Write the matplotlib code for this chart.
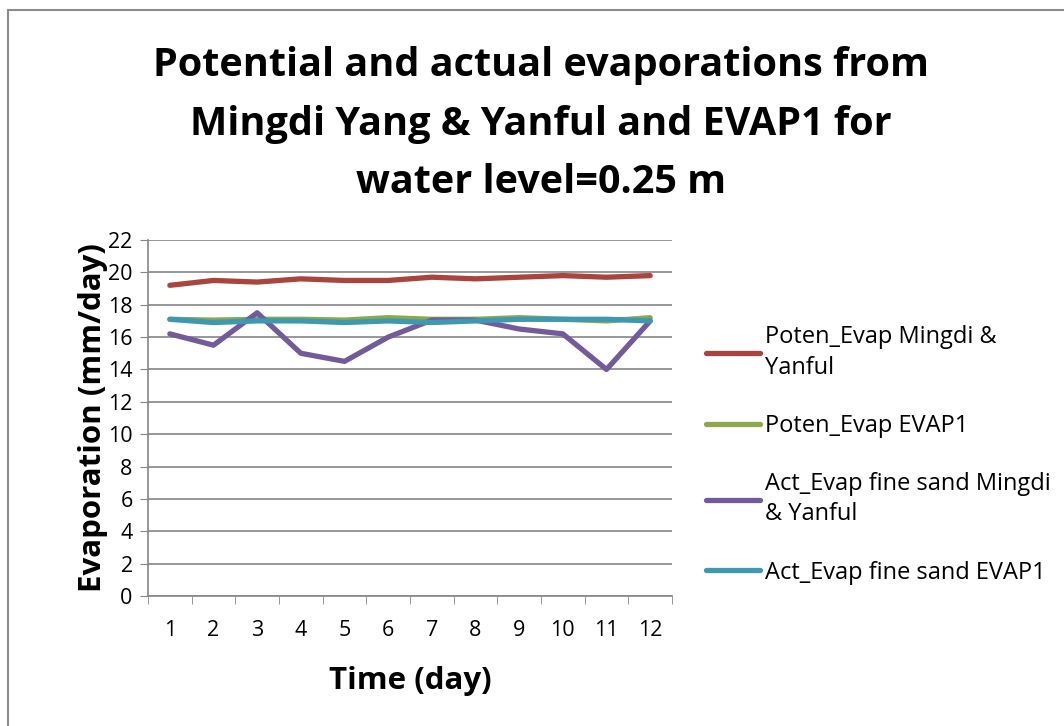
import matplotlib
matplotlib.use("Agg")
import matplotlib.pyplot as plt
from matplotlib.lines import Line2D

days = [1, 2, 3, 4, 5, 6, 7, 8, 9, 10, 11, 12]
poten_mingdi = [19.2, 19.5, 19.4, 19.6, 19.5, 19.5, 19.7, 19.6, 19.7, 19.8, 19.7, 19.8]
poten_evap1 = [17.1, 17.05, 17.1, 17.1, 17.05, 17.2, 17.1, 17.1, 17.2, 17.1, 17.0, 17.2]
act_mingdi = [16.2, 15.5, 17.5, 15.0, 14.5, 16.0, 17.05, 17.05, 16.5, 16.2, 14.0, 17.0]
act_evap1 = [17.1, 16.9, 17.0, 17.0, 16.9, 17.0, 16.9, 17.0, 17.1, 17.1, 17.1, 17.0]

labels = ["Poten_Evap Mingdi &\nYanful", "Poten_Evap EVAP1",
          "Act_Evap fine sand Mingdi\n& Yanful", "Act_Evap fine sand EVAP1"]
colors = ["#A9443F", "#8AAA4A", "#735A9A", "#3F98B1"]
yticks = list(range(0, 23, 2))

plt.rcParams['font.family'] = ['Open Sans', 'DejaVu Sans']

fig = plt.figure(figsize=(10.64, 7.26), dpi=100)
bx = 8 / 1064
by = 1 - 10 / 726
fig.add_artist(Line2D([bx, bx], [0, by], transform=fig.transFigure, color="#8c8c8c", linewidth=1.5))
fig.add_artist(Line2D([bx, 1], [by, by], transform=fig.transFigure, color="#8c8c8c", linewidth=1.5))

ax = fig.add_axes([148/1064, 1 - 596/726, 524/1064, 356/726])

series = [poten_mingdi, poten_evap1, act_mingdi, act_evap1]
for s, lab, c in zip(series, labels, colors):
    ax.plot(days, s, color=c, linewidth=3.8, label=lab, solid_capstyle='round', solid_joinstyle='round')

ax.set_xlim(0.5, 12.5)
ax.set_ylim(0, 22)
ax.set_yticks(yticks)
ax.set_xticks(days)
ax.set_xticks([d + 0.5 for d in [0] + days], minor=True)
ax.tick_params(axis='x', which='major', length=0, labelsize=15.5, pad=17)
ax.tick_params(axis='x', which='minor', length=6, color="#868686", direction='out')
ax.tick_params(axis='y', which='major', length=6, color="#868686", labelsize=15.5, pad=5)
ax.grid(axis='y', color="#868686", linewidth=1.2)
ax.set_axisbelow(True)
for side in ['top', 'right']:
    ax.spines[side].set_visible(False)
for side in ['left', 'bottom']:
    ax.spines[side].set_color("#868686")
    ax.spines[side].set_linewidth(1.2)

ax.set_xlabel("Time (day)", fontsize=22.5, fontweight='bold', labelpad=18)
ax.set_ylabel("Evaporation (mm/day)", fontsize=22.5, fontweight='bold', labelpad=0)

fig.text(541/1064, 1 - 124/726,
         "Potential and actual evaporations from\nMingdi Yang & Yanful and EVAP1 for\nwater level=0.25 m",
         ha='center', va='center', fontsize=28.5, fontweight='bold', linespacing=1.65)

leg = ax.legend(loc='center left', bbox_to_anchor=(706/1064, 1 - 455/726), bbox_transform=fig.transFigure,
                frameon=False, fontsize=17, handlelength=2.3, labelspacing=1.45, handletextpad=0.2,
                borderpad=0, borderaxespad=0)
for t in leg.get_texts():
    t.set_linespacing(1.35)

fig.savefig("out.png", dpi=100)
